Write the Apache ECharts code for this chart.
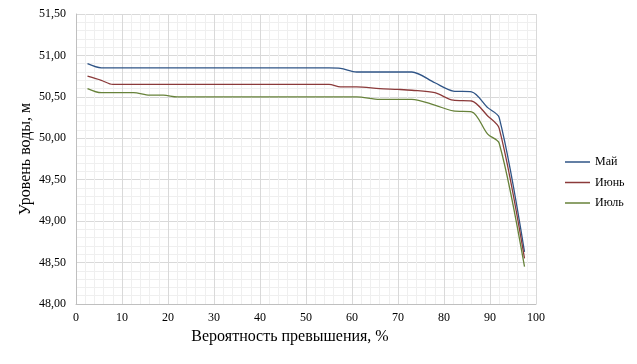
<!DOCTYPE html>
<html>
<head>
<meta charset="utf-8">
<script src="https://cdn.jsdelivr.net/npm/echarts@6/dist/echarts.min.js"></script>
<style>html,body{margin:0;padding:0;background:#fff;}#c{width:637px;height:364px;}</style>
</head>
<body>
<div id="c"></div>
<script>
const seriesNames = ['Май', 'Июнь', 'Июль'];
const xValues = [2.5, 5.5, 8, 12.5, 16, 19, 22, 55, 57.5, 61, 66, 70, 73, 78, 82, 86, 89.5, 92, 97.5];
const mayValues = [50.9, 50.85, 50.85, 50.85, 50.85, 50.85, 50.85, 50.85, 50.845, 50.8, 50.8, 50.8, 50.8, 50.67, 50.57, 50.56, 50.37, 50.25, 48.63];
const juneValues = [50.75, 50.7, 50.65, 50.65, 50.65, 50.65, 50.65, 50.65, 50.62, 50.62, 50.6, 50.59, 50.58, 50.55, 50.46, 50.45, 50.27, 50.12, 48.55];
const julyValues = [50.6, 50.55, 50.55, 50.55, 50.52, 50.52, 50.5, 50.5, 50.5, 50.5, 50.47, 50.47, 50.47, 50.4, 50.33, 50.32, 50.05, 49.94, 48.45];
const colors = ['#2f5486', '#8b3a3a', '#67823a'];

const allValues = [mayValues, juneValues, julyValues];
const font = 'Liberation Serif';
const chart = echarts.init(document.getElementById('c'), null, {renderer: 'canvas'});
chart.setOption({
  animation: false,
  backgroundColor: '#fff',
  textStyle: {fontFamily: font},
  grid: {left: 76, right: 101, top: 14, bottom: 60, containLabel: false},
  legend: {
    orient: 'vertical', left: 560, top: 151,
    icon: 'rect', itemWidth: 25, itemHeight: 1.5, itemGap: 8.5,
    textStyle: {fontFamily: font, fontSize: 12, color: '#000'},
    data: seriesNames
  },
  xAxis: {
    type: 'value', min: 0, max: 100, interval: 10,
    name: 'Вероятность превышения, %', nameLocation: 'middle', nameGap: 25,
    nameMoveOverlap: false,
    nameTextStyle: {fontFamily: font, fontSize: 16, color: '#000', padding: [0, 32, 0, 0]},
    axisLine: {show: true, lineStyle: {color: '#bfbfbf', width: 1}},
    axisTick: {show: false},
    axisLabel: {fontFamily: font, fontSize: 12, color: '#000', margin: 8},
    splitLine: {show: true, lineStyle: {color: '#d9d9d9', width: 1}},
    minorTick: {show: false, splitNumber: 5},
    minorSplitLine: {show: true, lineStyle: {color: '#efefef', width: 1}}
  },
  yAxis: {
    type: 'value', min: 48, max: 51.5, interval: 0.5,
    name: 'Уровень воды, м', nameLocation: 'middle', nameGap: 42,
    nameMoveOverlap: false,
    nameTextStyle: {fontFamily: font, fontSize: 16, color: '#000'},
    axisLine: {show: true, lineStyle: {color: '#bfbfbf', width: 1}},
    axisTick: {show: false},
    axisLabel: {fontFamily: font, fontSize: 12, color: '#000', margin: 10,
      formatter: v => v.toFixed(2).replace('.', ',')},
    splitLine: {show: true, lineStyle: {color: '#d9d9d9', width: 1}},
    minorTick: {show: false, splitNumber: 5},
    minorSplitLine: {show: true, lineStyle: {color: '#efefef', width: 1}}
  },
  series: seriesNames.map((n, i) => ({
    name: n, type: 'line', smooth: 0.3, symbol: 'none',
    color: colors[i],
    lineStyle: {width: 1.3, color: colors[i]},
    data: xValues.map((x, j) => [x, allValues[i][j]])
  }))
});
</script>
</body>
</html>
